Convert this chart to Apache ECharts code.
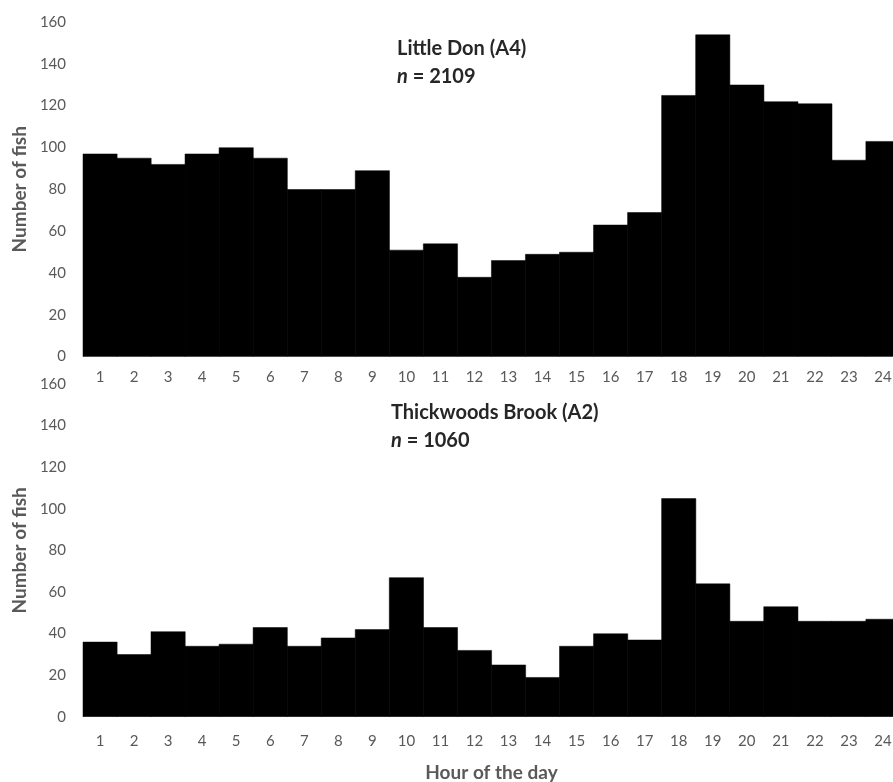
<!DOCTYPE html>
<html>
<head>
<meta charset="utf-8">
<script src="https://cdn.jsdelivr.net/npm/echarts@6/dist/echarts.min.js"></script>
<style>
html,body{margin:0;padding:0;background:#fff;}
#chart{width:893px;height:782px;}
</style>
</head>
<body>
<div id="chart"></div>
<script>
const hours = ['1','2','3','4','5','6','7','8','9','10','11','12','13','14','15','16','17','18','19','20','21','22','23','24'];
const littleDon = [97,95,92,97,100,95,80,80,89,51,54,38,46,49,50,63,69,125,154,130,122,121,94,103];
const thickwoods = [36,30,41,34,35,43,34,38,42,67,43,32,25,19,34,40,37,105,64,46,53,46,46,47];
const yTicks = [0,20,40,60,80,100,120,140,160];

const FONT = 'Lato';
const labelColor = '#595959';

function xAxis(gridIndex, margin, name) {
  return {
    type: 'category', gridIndex: gridIndex, data: hours,
    axisLine: {show: true, lineStyle: {color: '#a6a6a6', width: 1}},
    axisTick: {show: false},
    axisLabel: {color: labelColor, fontSize: 15, fontFamily: FONT, margin: margin, interval: 0},
    name: name, nameLocation: 'middle', nameGap: 47,
    nameTextStyle: {color: labelColor, fontSize: 19, fontFamily: FONT, fontWeight: 'bold'}
  };
}
function yAxis(gridIndex) {
  return {
    type: 'value', gridIndex: gridIndex, min: yTicks[0], max: yTicks[yTicks.length-1], interval: 20,
    axisLine: {show: false}, axisTick: {show: false}, splitLine: {show: false},
    axisLabel: {color: labelColor, fontSize: 15, fontFamily: FONT, margin: 17},
    name: 'Number of fish', nameLocation: 'middle', nameGap: 52,
    nameTextStyle: {color: labelColor, fontSize: 19, fontFamily: FONT, fontWeight: 'bold'}
  };
}

const richStyle = {
  b: {fontFamily: FONT, fontWeight: 'bold', fontSize: 20, color: '#262626', lineHeight: 28},
  i: {fontFamily: FONT, fontWeight: 'bold', fontStyle: 'italic', fontSize: 20, color: '#262626', lineHeight: 28}
};

const chart = echarts.init(document.getElementById('chart'), null, {renderer: 'canvas'});
chart.setOption({
  animation: false,
  backgroundColor: '#ffffff',
  title: [
    {left: 397, top: 35, padding: 0,
     text: '{b|Little Don (A4)}\n{i|n}{b| = 2109}', textStyle: {rich: richStyle}},
    {left: 391, top: 399, padding: 0,
     text: '{b|Thickwoods Brook (A2)}\n{i|n}{b| = 1060}', textStyle: {rich: richStyle}}
  ],
  grid: [
    {left: 83, width: 817, top: 22, height: 334.5, outerBoundsMode: 'none', containLabel: false},
    {left: 83, width: 817, top: 384, height: 332.7, outerBoundsMode: 'none', containLabel: false}
  ],
  xAxis: [xAxis(0, 13, ''), xAxis(1, 17, 'Hour of the day')],
  yAxis: [yAxis(0), yAxis(1)],
  series: [
    {type: 'bar', xAxisIndex: 0, yAxisIndex: 0, data: littleDon, barWidth: '102%',
     itemStyle: {color: '#000000', borderColor: '#000000', borderWidth: 0.5}, silent: true},
    {type: 'bar', xAxisIndex: 1, yAxisIndex: 1, data: thickwoods, barWidth: '102%',
     itemStyle: {color: '#000000', borderColor: '#000000', borderWidth: 0.5}, silent: true}
  ]
});
</script>
</body>
</html>
